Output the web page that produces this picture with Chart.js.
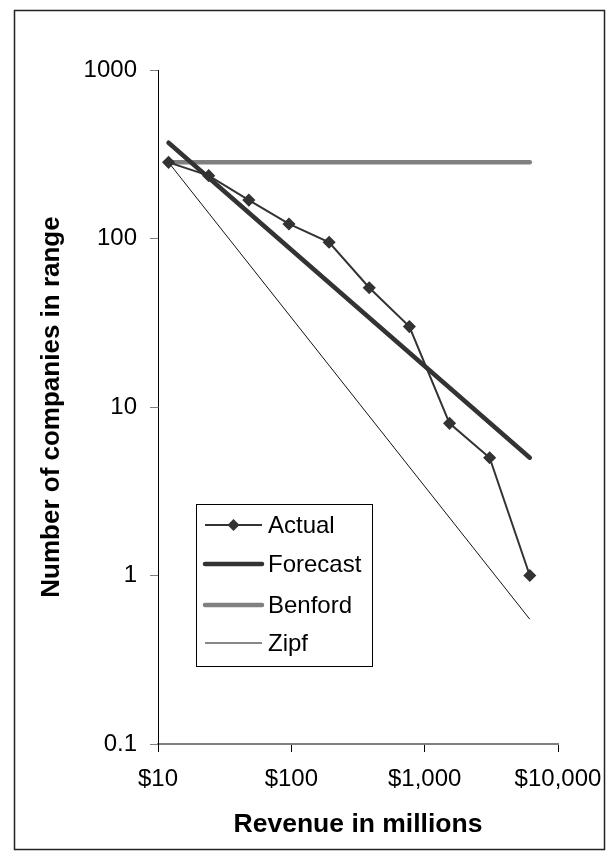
<!DOCTYPE html>
<html>
<head>
<meta charset="utf-8">
<script src="https://cdn.jsdelivr.net/npm/chart.js@4.4.1/dist/chart.umd.min.js"></script>
<style>
  html, body { margin: 0; padding: 0; background: #fff; }
  canvas { display: block; }
</style>
</head>
<body>
<canvas id="chart" width="610" height="851"></canvas>
<script>
// Data
const revenue = [12, 24, 48, 96, 192, 384, 768, 1536, 3072, 6144];
const actual = [283, 236, 169, 122, 95, 51, 30, 8, 5, 1];
const fitRevenue = [12, 6144];
const forecast = [370, 5];
const benford = [283, 283];
const zipf = [283, 0.55];
const seriesNames = ['Actual', 'Forecast', 'Benford', 'Zipf'];
const xTickValues = [10, 100, 1000, 10000];
const yTickValues = [0.1, 1, 10, 100, 1000];

const FONT = "'Liberation Sans', Arial, sans-serif";

/**
 * Pairs x and y arrays into {x, y} points.
 */
function toPoints(xs, ys) {
  return xs.map((x, i) => ({ x, y: ys[i] }));
}

/**
 * Outer frame around the whole picture.
 */
const frame = {
  id: 'frame',
  afterDraw(chart) {
    const ctx = chart.ctx;
    ctx.save();
    ctx.strokeStyle = '#222';
    ctx.lineWidth = 1.5;
    ctx.strokeRect(14.5, 10.5, 590, 839);
    ctx.restore();
  },
};

/**
 * Boxed legend inside the plot, drawn by hand to match the Excel look.
 */
const boxLegend = {
  id: 'boxLegend',
  afterDraw(chart) {
    const ctx = chart.ctx;
    const box = { x: 196.5, y: 504.5, w: 176, h: 162 };
    const rows = [525, 564, 605, 643];
    ctx.save();
    ctx.fillStyle = '#fff';
    ctx.fillRect(box.x, box.y, box.w, box.h);
    ctx.strokeStyle = '#000';
    ctx.lineWidth = 1;
    ctx.strokeRect(box.x, box.y, box.w, box.h);
    ctx.font = '24px ' + FONT;
    ctx.textBaseline = 'middle';
    ctx.textAlign = 'left';
    chart.data.datasets.forEach((ds, i) => {
      const y = rows[i];
      ctx.strokeStyle = ds.borderColor;
      ctx.lineWidth = ds.borderWidth;
      ctx.lineCap = ds.borderCapStyle || 'butt';
      ctx.beginPath();
      ctx.moveTo(205, y);
      ctx.lineTo(262, y);
      ctx.stroke();
      if (ds.pointRadius > 0) {
        const r = 6;
        ctx.fillStyle = ds.pointBackgroundColor;
        ctx.beginPath();
        ctx.moveTo(233.5 - r, y);
        ctx.lineTo(233.5, y - r);
        ctx.lineTo(233.5 + r, y);
        ctx.lineTo(233.5, y + r);
        ctx.closePath();
        ctx.fill();
      }
      ctx.fillStyle = '#000';
      ctx.fillText(ds.label, 268, y + 1);
    });
    ctx.restore();
  },
};

new Chart(document.getElementById('chart'), {
  type: 'line',
  data: {
    datasets: [
      {
        label: seriesNames[0],
        data: toPoints(revenue, actual),
        borderColor: '#333',
        borderWidth: 2,
        pointStyle: 'rectRot',
        pointRadius: 5.5,
        pointBackgroundColor: '#333',
        pointBorderColor: '#333',
        pointBorderWidth: 1.5,
      },
      {
        label: seriesNames[1],
        data: toPoints(fitRevenue, forecast),
        borderColor: '#333',
        borderWidth: 4.5,
        borderCapStyle: 'round',
        pointRadius: 0,
      },
      {
        label: seriesNames[2],
        data: toPoints(fitRevenue, benford),
        borderColor: '#808080',
        borderWidth: 4.5,
        borderCapStyle: 'round',
        pointRadius: 0,
      },
      {
        label: seriesNames[3],
        data: toPoints(fitRevenue, zipf),
        borderColor: '#111',
        borderWidth: 1,
        pointRadius: 0,
      },
    ],
  },
  options: {
    responsive: false,
    animation: false,
    clip: false,
    layout: { padding: { top: 70, right: 52, bottom: 0, left: 0 } },
    plugins: {
      legend: { display: false },
      tooltip: { enabled: false },
    },
    scales: {
      x: {
        type: 'logarithmic',
        min: 10,
        max: 10000,
        afterBuildTicks: (scale) => { scale.ticks = xTickValues.map((v) => ({ value: v })); },
        afterFit: (scale) => {
          scale.height = 107;
          scale.paddingLeft = 0;
          scale.paddingRight = 0;
        },
        border: { color: '#808080', width: 2 },
        grid: { drawOnChartArea: false, tickLength: 8, color: '#000', tickColor: '#000' },
        ticks: {
          color: '#000',
          padding: 13,
          maxRotation: 0,
          font: { family: FONT, size: 24 },
          callback: (v) => '$' + Number(v).toLocaleString('en-US'),
        },
        title: {
          display: true,
          text: 'Revenue in millions',
          color: '#000',
          font: { family: FONT, size: 26.5, weight: 'bold' },
          padding: { top: 0, bottom: 10 },
        },
      },
      y: {
        type: 'logarithmic',
        min: 0.1,
        max: 1000,
        afterBuildTicks: (scale) => { scale.ticks = yTickValues.map((v) => ({ value: v })); },
        afterFit: (scale) => {
          scale.width = 158;
          scale.paddingTop = 0;
          scale.paddingBottom = 0;
        },
        border: { color: '#000', width: 1 },
        grid: { drawOnChartArea: false, tickLength: 8, color: '#808080', tickColor: '#808080' },
        ticks: {
          color: '#000',
          padding: 13,
          font: { family: FONT, size: 24 },
          callback: (v) => String(v),
        },
        title: {
          display: true,
          text: 'Number of companies in range',
          color: '#000',
          font: { family: FONT, size: 26, weight: 'bold' },
          padding: { top: 36, bottom: 0 },
        },
      },
    },
  },
  plugins: [frame, boxLegend],
});
</script>
</body>
</html>
